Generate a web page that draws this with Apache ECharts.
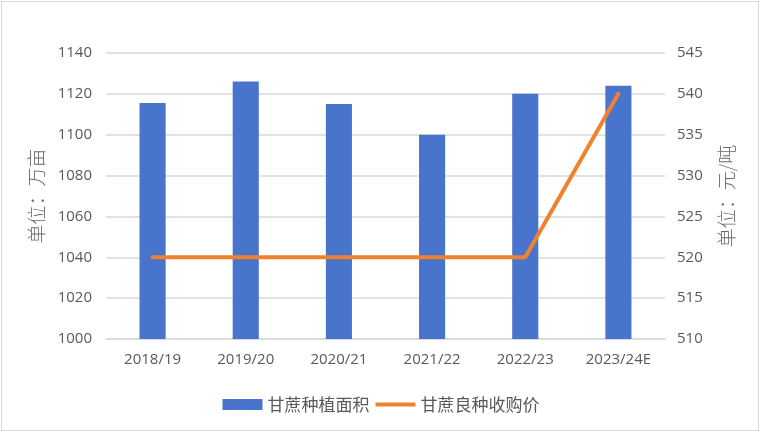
<!DOCTYPE html>
<html><head><meta charset="utf-8">
<script src="https://cdn.jsdelivr.net/npm/echarts@6/dist/echarts.min.js"></script>
<style>
html,body{margin:0;padding:0;background:#fff;}
#wrap{position:absolute;left:1px;top:1px;width:758px;height:430px;border:1px solid #d9d9d9;box-sizing:border-box;}
#c{position:absolute;left:0;top:0;width:762px;height:434px;}
</style></head>
<body>
<div id="wrap"></div>
<div id="c"></div>
<script>
var categories = ['2018/19','2019/20','2020/21','2021/22','2022/23','2023/24E'];
var areaValues = [1115.5, 1126, 1115, 1100, 1120, 1124];
var priceValues = [520, 520, 520, 520, 520, 540];
var seriesNames = ['甘蔗种植面积','甘蔗良种收购价'];
var leftAxisName = '单位：万亩';
var rightAxisName = '单位：元/吨';

var chart = echarts.init(document.getElementById('c'));
var lab = {color:'#595959', fontSize:15, fontFamily:'"Open Sans","Noto Sans",sans-serif'};
var nameStyle = {color:'#6b6b6b', fontSize:19, fontFamily:'"Noto Sans CJK SC",sans-serif', fontWeight:300};
chart.setOption({
  animation:false,
  grid:{left:106,right:97,top:53,bottom:95},
  legend:{
    bottom:16, left:'center', itemGap:6, itemWidth:40, itemHeight:11,
    textStyle:{color:'#595959', fontSize:17, fontFamily:'"Noto Sans CJK SC",sans-serif'},
    data:[
      {name:seriesNames[0], icon:'rect'},
      {name:seriesNames[1], icon:'path://M0,0 M0,3.5 L40,3.5 L40,7.5 L0,7.5 Z M40,11'}
    ]
  },
  xAxis:{
    type:'category', data:categories,
    axisLine:{lineStyle:{color:'#d9d9d9',width:1.5}},
    axisTick:{show:false},
    axisLabel:Object.assign({margin:13},lab)
  },
  yAxis:[{
    type:'value', min:1000, max:1140, interval:20,
    name:leftAxisName, nameLocation:'middle', nameRotate:90, nameGap:60,
    nameTextStyle:nameStyle,
    axisLine:{show:false}, axisTick:{show:false},
    splitLine:{lineStyle:{color:'#d9d9d9',width:1.5}},
    axisLabel:Object.assign({margin:14, formatter:function(v){return String(v);}},lab)
  },{
    type:'value', min:510, max:545, interval:5,
    name:rightAxisName, nameLocation:'middle', nameRotate:90, nameGap:52,
    nameTextStyle:nameStyle,
    axisLine:{show:false}, axisTick:{show:false},
    splitLine:{show:false},
    axisLabel:Object.assign({margin:12, formatter:function(v){return String(v);}},lab)
  }],
  series:[{
    name:seriesNames[0], type:'bar', data:areaValues, barWidth:'28%',
    itemStyle:{color:'#4874CB'}
  },{
    name:seriesNames[1], type:'line', yAxisIndex:1, data:priceValues,
    showSymbol:false, symbol:'none',
    lineStyle:{color:'#EE822F', width:4, cap:'round'},
    itemStyle:{color:'#EE822F'}
  }]
});
</script>
</body></html>
